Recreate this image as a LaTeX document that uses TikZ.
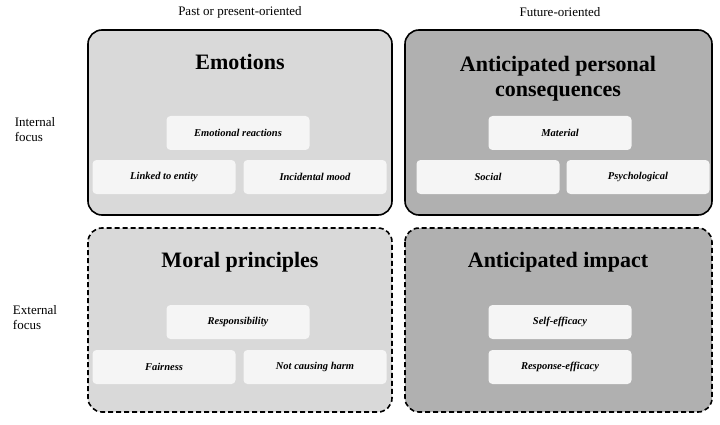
\documentclass[tikz,border=0pt]{standalone}
\usepackage{fontspec}
\setmainfont{Liberation Serif}
\begin{document}
\begin{tikzpicture}[x=1pt,y=-1pt,
  big/.style={draw=black,line width=1.6pt,rounded corners=14pt},
  light/.style={fill=gray!30},
  dark/.style={fill=gray!62},
  dsh/.style={dash pattern=on 5pt off 3pt},
  inner/.style={fill=gray!8,rounded corners=4pt,minimum width=143pt,minimum height=34pt,font=\fontsize{10.5}{12}\selectfont\bfseries\itshape},
  ttl/.style={font=\fontsize{22}{25}\selectfont\bfseries,align=center},
  lab/.style={font=\fontsize{13}{15}\selectfont,align=left}]
\useasboundingbox (0,0) rectangle (720,425);
\fill[white] (0,0) rectangle (720,425);
\node[lab] (c1) at (240,12) {Past or present-oriented};
\node[lab] (c2) at (560,12) {Future-oriented};
\node[lab] (r1) at (35,130) {Internal\\focus};
\node[lab] (r2) at (35,318) {External\\focus};
\draw[big,light] (88,30) rectangle (392,215);
\draw[big,dark] (405,30) rectangle (712,215);
\draw[big,light,dsh] (88,228) rectangle (392,412);
\draw[big,dark,dsh] (405,228) rectangle (712,412);
\node[ttl] (t1) at (240,62) {Emotions};
\node[ttl] (t2) at (558,79) {Anticipated personal\\consequences};
\node[ttl] (t3) at (240,262) {Moral principles};
\node[ttl] (t4) at (558,262) {Anticipated impact};
\node[inner] (a1) at (238,133) {Emotional reactions};
\node[inner] (a2) at (164,177) {Linked to entity};
\node[inner] (a3) at (315,177) {Incidental mood};
\node[inner] (b1) at (560,133) {Material};
\node[inner] (b2) at (488,177) {Social};
\node[inner] (b3) at (638,177) {Psychological};
\node[inner] (c1b) at (238,322) {Responsibility};
\node[inner] (c2b) at (164,367) {Fairness};
\node[inner] (c3b) at (315,367) {Not causing harm};
\node[inner] (d1) at (560,322) {Self-efficacy};
\node[inner] (d2) at (560,367) {Response-efficacy};
\end{tikzpicture}
\end{document}
